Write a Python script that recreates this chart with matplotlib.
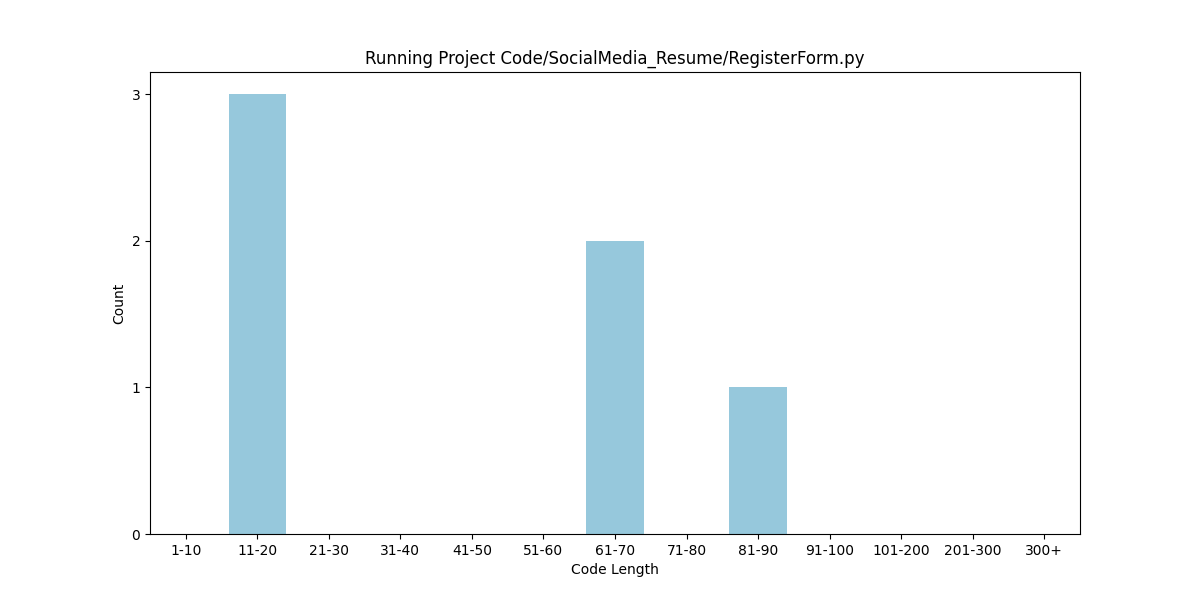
import matplotlib
matplotlib.use('Agg')
import matplotlib.pyplot as plt

categories = ['1-10', '11-20', '21-30', '31-40', '41-50', '51-60', '61-70',
              '71-80', '81-90', '91-100', '101-200', '201-300', '300+']
counts = [0, 3, 0, 0, 0, 0, 2, 0, 1, 0, 0, 0, 0]

fig, ax = plt.subplots(figsize=(12, 6), dpi=100)
ax.bar(categories, counts, color='#96c8dc', width=0.8)
ax.set_xlim(-0.5, len(categories) - 0.5)
ax.set_yticks([0, 1, 2, 3])
ax.set_xlabel('Code Length')
ax.set_ylabel('Count')
ax.set_title('Running Project Code/SocialMedia_Resume/RegisterForm.py')
fig.savefig('out.png')
